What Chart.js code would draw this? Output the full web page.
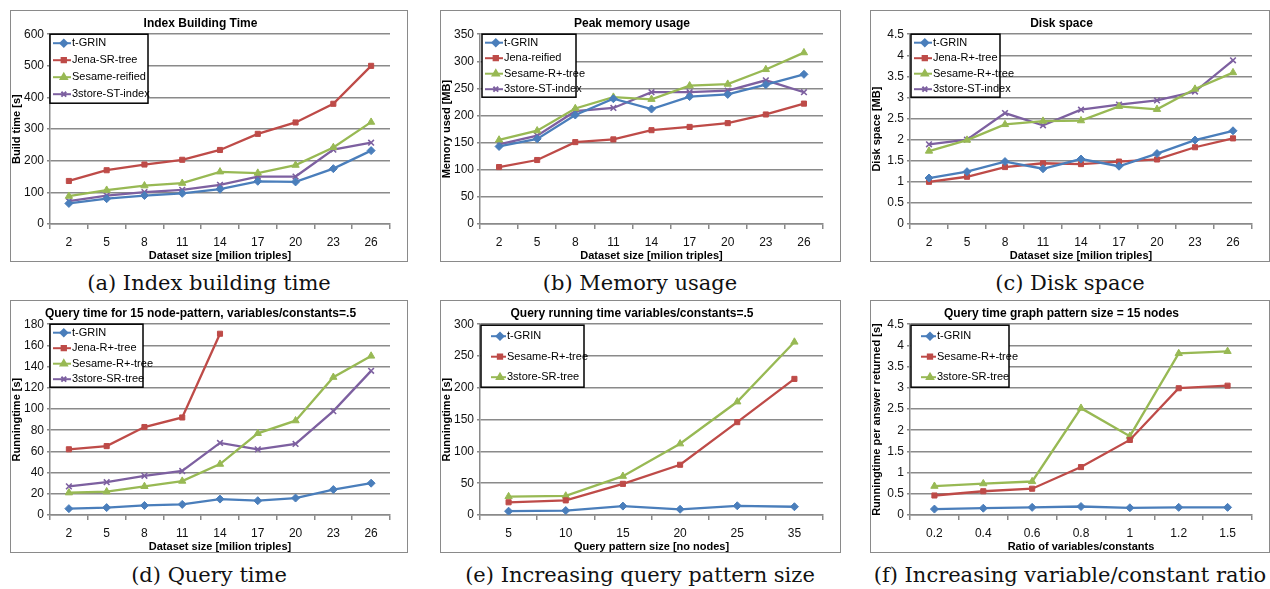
<!DOCTYPE html>
<html>
<head>
<meta charset="utf-8">
<script src="https://cdn.jsdelivr.net/npm/chart.js@4.4.1/dist/chart.umd.min.js"></script>
<style>
  html, body { margin: 0; padding: 0; background: #fff; }
  body { width: 1270px; height: 589px; position: relative; overflow: hidden; }
  .frame { position: absolute; box-sizing: border-box; border: 1.5px solid #8a8a8a; background: #fff; }
  .frame canvas { display: block; }
  .cap { position: absolute; width: 440px; text-align: center; font-family: "DejaVu Serif", serif; font-size: 21px; color: #111; white-space: nowrap; line-height: 24px; }
</style>
</head>
<body>
<div class="frame" style="left:10px; top:10px; width:398px; height:252px;"><canvas id="chart-a"></canvas></div>
<div class="frame" style="left:440px; top:10px; width:401px; height:252px;"><canvas id="chart-b"></canvas></div>
<div class="frame" style="left:870px; top:10px; width:400px; height:252px;"><canvas id="chart-c"></canvas></div>
<div class="frame" style="left:10px; top:300px; width:398px; height:253px;"><canvas id="chart-d"></canvas></div>
<div class="frame" style="left:440px; top:300px; width:401px; height:253px;"><canvas id="chart-e"></canvas></div>
<div class="frame" style="left:870px; top:300px; width:400px; height:253px;"><canvas id="chart-f"></canvas></div>

<div class="cap" style="left:-11px; top:271px;">(a) Index building time</div>
<div class="cap" style="left:420px; top:271px;">(b) Memory usage</div>
<div class="cap" style="left:850px; top:271px;">(c) Disk space</div>
<div class="cap" style="left:-11px; top:563px;">(d) Query time</div>
<div class="cap" style="left:420px; top:563px;">(e) Increasing query pattern size</div>
<div class="cap" style="left:850px; top:563px;">(f) Increasing variable/constant ratio</div>

<script>
// dataset sizes [milion triples]
const datasetSizes = ['2', '5', '8', '11', '14', '17', '20', '23', '26'];
const patternSizes = ['5', '10', '15', '20', '25', '35'];
const ratios = ['0.2', '0.4', '0.6', '0.8', '1', '1.2', '1.5'];

// (a) build time [s]
const buildTGrin = [65, 80, 90, 97, 110, 135, 133, 175, 232];
const buildJena = [136, 170, 188, 203, 234, 285, 321, 380, 500];
const buildSesame = [88, 107, 121, 129, 165, 161, 186, 242, 322];
const build3store = [72, 90, 101, 108, 124, 150, 150, 235, 257];

// (b) memory used [MB]
const memTGrin = [143, 157, 201, 231, 212, 235, 239, 257, 276];
const memJena = [105, 118, 151, 156, 173, 179, 186, 202, 222];
const memSesame = [155, 172, 213, 234, 230, 255, 258, 285, 316];
const mem3store = [147, 163, 208, 214, 243, 243, 246, 265, 243];

// (c) disk space [MB]
const diskTGrin = [1.09, 1.24, 1.48, 1.31, 1.54, 1.37, 1.67, 1.99, 2.21];
const diskJena = [1.0, 1.12, 1.35, 1.44, 1.42, 1.48, 1.53, 1.82, 2.03];
const diskSesame = [1.73, 1.99, 2.36, 2.44, 2.45, 2.79, 2.72, 3.2, 3.59];
const disk3store = [1.89, 2.0, 2.63, 2.34, 2.71, 2.83, 2.93, 3.14, 3.88];

// (d) query time [s]
const queryTGrin = [6, 7, 9, 10, 15, 13.5, 16, 24, 30];
const queryJena = [62, 65, 83, 92, 171, null, null, null, null];
const querySesame = [21, 22, 27, 32, 48, 77, 89, 130, 150];
const query3store = [27, 31, 37, 41.5, 68, 62, 67, 98, 136];

// (e) running time vs pattern size [s]
const patTGrin = [6, 7, 14, 9, 14.5, 13];
const patSesame = [20, 23, 49, 79, 146, 214];
const pat3store = [29, 30, 61, 112, 178, 272];

// (f) running time per answer vs ratio [s]
const ratioTGrin = [0.14, 0.16, 0.18, 0.2, 0.17, 0.18, 0.18];
const ratioSesame = [0.46, 0.56, 0.62, 1.13, 1.77, 2.99, 3.05];
const ratio3store = [0.68, 0.74, 0.79, 2.52, 1.86, 3.81, 3.86];

const BLUE = '#4a7ebb', RED = '#be4b48', GREEN = '#98b954', PURPLE = '#7d60a0';
const GRID = '#8a8a8a';
const FONT = '"Liberation Sans Narrow", "Liberation Sans", sans-serif';

const STYLE = {
  diamond: { pointStyle: 'rectRot', pointRadius: 4 },
  square: { pointStyle: 'rect', pointRadius: 3.6 },
  triangle: { pointStyle: 'triangle', pointRadius: 4.2 },
  cross: { pointStyle: 'crossRot', pointRadius: 4 }
};

function series(label, data, color, mark) {
  return {
    label, data,
    borderColor: color, backgroundColor: color,
    pointBackgroundColor: color, pointBorderColor: color,
    borderWidth: 2.3, pointBorderWidth: mark === 'cross' ? 1.6 : 1,
    tension: 0, spanGaps: false,
    ...STYLE[mark]
  };
}

// legend box drawn inside the plot area, Excel style
const boxLegend = {
  id: 'boxLegend',
  afterDatasetsDraw(chart, args, o) {
    if (!o || !o.width) return;
    const { ctx, chartArea } = chart;
    const x = chartArea.left + o.dx, y = chartArea.top + o.dy;
    ctx.save();
    ctx.fillStyle = '#fff';
    ctx.fillRect(x, y, o.width, o.height);
    ctx.strokeStyle = '#000';
    ctx.lineWidth = 1.5;
    ctx.strokeRect(x, y, o.width, o.height);
    ctx.font = '11px ' + FONT;
    ctx.textBaseline = 'middle';
    chart.data.datasets.forEach((ds, i) => {
      const ry = y + o.first + i * o.step;
      const sx = x + o.sampleX;
      ctx.strokeStyle = ds.borderColor;
      ctx.lineWidth = 2;
      ctx.beginPath();
      ctx.moveTo(sx, ry);
      ctx.lineTo(sx + o.sampleW, ry);
      ctx.stroke();
      ctx.fillStyle = ds.pointBackgroundColor;
      Chart.helpers.drawPoint(ctx, {
        pointStyle: ds.pointStyle, radius: ds.pointRadius * 0.85,
        borderWidth: ds.pointBorderWidth, rotation: 0
      }, sx + o.sampleW * 0.6, ry);
      ctx.fillStyle = '#000';
      ctx.fillText(ds.label, sx + o.sampleW + 1, ry);
    });
    ctx.restore();
  }
};

const trimZeros = v => String(+Number(v).toFixed(2));

function makeChart(id, title, xTitle, yTitle, labels, yMax, yStep, datasets, legend) {
  return new Chart(document.getElementById(id), {
    type: 'line',
    data: { labels, datasets },
    plugins: [boxLegend],
    options: {
      responsive: true,
      maintainAspectRatio: false,
      animation: false,
      layout: { padding: { left: 0, right: 17, top: 0, bottom: 0 } },
      plugins: {
        legend: { display: false },
        tooltip: { enabled: false },
        title: {
          display: true, text: title, color: '#000',
          font: { family: FONT, size: 12, weight: 'bold', lineHeight: 1.1 },
          padding: { top: 6, bottom: 4 }
        },
        boxLegend: legend
      },
      scales: {
        x: {
          offset: true,
          grid: { offset: true, drawOnChartArea: false, drawTicks: true, tickLength: 5, color: GRID, lineWidth: 1.5 },
          border: { color: GRID, width: 1.5 },
          ticks: { color: '#111', padding: 6, maxRotation: 0, autoSkip: false, font: { family: FONT, size: 12 } },
          title: { display: true, text: xTitle, color: '#000', padding: 0, font: { family: FONT, size: 11, weight: 'bold', lineHeight: 1 } },
          afterFit: s => { s.height = 37; }
        },
        y: {
          min: 0, max: yMax,
          grid: { color: GRID, lineWidth: 1.5, tickLength: 3 },
          border: { color: GRID, width: 1.5 },
          ticks: { stepSize: yStep, color: '#111', padding: 3, font: { family: FONT, size: 12 }, callback: trimZeros },
          title: { display: true, text: yTitle, color: '#000', padding: 0, font: { family: FONT, size: 11, weight: 'bold', lineHeight: 1.1 } },
          afterFit: s => { s.width = 39; }
        }
      }
    }
  });
}

const legend4 = { dx: 0, dy: 0, width: 94, height: 63, first: 8.5, step: 15.5, sampleX: 3, sampleW: 18 };
const legend3 = { dx: 1, dy: 1, width: 103, height: 62, first: 11, step: 20.5, sampleX: 10, sampleW: 15 };

makeChart('chart-a', 'Index Building Time', 'Dataset size [milion triples]', 'Build time [s]',
  datasetSizes, 600, 100, [
    series('t-GRIN', buildTGrin, BLUE, 'diamond'),
    series('Jena-SR-tree', buildJena, RED, 'square'),
    series('Sesame-reified', buildSesame, GREEN, 'triangle'),
    series('3store-ST-index', build3store, PURPLE, 'cross')
  ], { dx: 0, dy: 0, width: 98, height: 69, first: 9, step: 17, sampleX: 3, sampleW: 18 });

makeChart('chart-b', 'Peak memory usage', 'Dataset size [milion triples]', 'Memory used [MB]',
  datasetSizes, 350, 50, [
    series('t-GRIN', memTGrin, BLUE, 'diamond'),
    series('Jena-reified', memJena, RED, 'square'),
    series('Sesame-R+-tree', memSesame, GREEN, 'triangle'),
    series('3store-ST-index', mem3store, PURPLE, 'cross')
  ], { ...legend4, dx: 2 });

makeChart('chart-c', 'Disk space', 'Dataset size [milion triples]', 'Disk space [MB]',
  datasetSizes, 4.5, 0.5, [
    series('t-GRIN', diskTGrin, BLUE, 'diamond'),
    series('Jena-R+-tree', diskJena, RED, 'square'),
    series('Sesame-R+-tree', diskSesame, GREEN, 'triangle'),
    series('3store-ST-index', disk3store, PURPLE, 'cross')
  ], { ...legend4, dx: 1, width: 89 });

makeChart('chart-d', 'Query time for 15 node-pattern, variables/constants=.5', 'Dataset size [milion triples]', 'Runningtime [s]',
  datasetSizes, 180, 20, [
    series('t-GRIN', queryTGrin, BLUE, 'diamond'),
    series('Jena-R+-tree', queryJena, RED, 'square'),
    series('Sesame-R+-tree', querySesame, GREEN, 'triangle'),
    series('3store-SR-tree', query3store, PURPLE, 'cross')
  ], { ...legend4, width: 93 });

makeChart('chart-e', 'Query running time variables/constants=.5', 'Query pattern size [no nodes]', 'Runningtime [s]',
  patternSizes, 300, 50, [
    series('t-GRIN', patTGrin, BLUE, 'diamond'),
    series('Sesame-R+-tree', patSesame, RED, 'square'),
    series('3store-SR-tree', pat3store, GREEN, 'triangle')
  ], legend3);

makeChart('chart-f', 'Query time graph pattern size = 15 nodes', 'Ratio of variables/constants', 'Runningtime per answer returned [s]',
  ratios, 4.5, 0.5, [
    series('t-GRIN', ratioTGrin, BLUE, 'diamond'),
    series('Sesame-R+-tree', ratioSesame, RED, 'square'),
    series('3store-SR-tree', ratio3store, GREEN, 'triangle')
  ], { ...legend3, width: 98 });
</script>
</body>
</html>
